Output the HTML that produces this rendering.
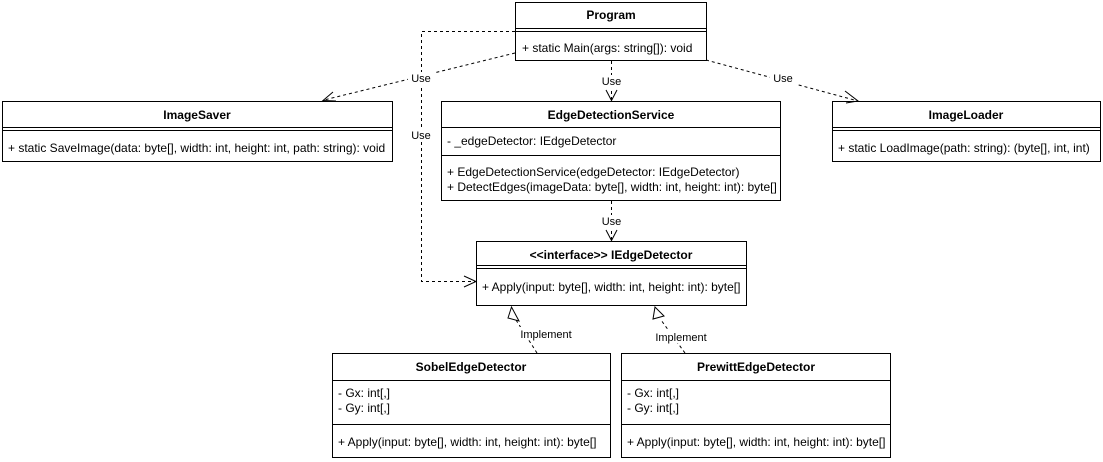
<!DOCTYPE html>
<html><head><meta charset="utf-8"><style>
html,body{margin:0;padding:0;background:#fff;}
svg{display:block;font-family:"Liberation Sans",Arial,sans-serif;font-size:12px;}
.b{font-weight:bold;}
</style></head><body>
<svg width="1103" height="462" viewBox="0 0 1103 462" xmlns="http://www.w3.org/2000/svg">
<g fill="#fff" stroke="#000" stroke-width="1">
<rect x="515.5" y="2.5" width="191" height="58"/>
<line x1="515.5" y1="28.5" x2="706.5" y2="28.5"/><line x1="515.5" y1="31.5" x2="706.5" y2="31.5"/>
<rect x="2.5" y="101.5" width="390" height="60"/>
<line x1="2.5" y1="127.5" x2="392.5" y2="127.5"/><line x1="2.5" y1="130.5" x2="392.5" y2="130.5"/>
<rect x="441.5" y="101.5" width="339" height="99"/>
<line x1="441.5" y1="127.5" x2="780.5" y2="127.5"/>
<line x1="441.5" y1="155.5" x2="780.5" y2="155.5"/>
<rect x="832.5" y="101.5" width="268" height="60"/>
<line x1="832.5" y1="127.5" x2="1100.5" y2="127.5"/><line x1="832.5" y1="130.5" x2="1100.5" y2="130.5"/>
<rect x="476.5" y="241.5" width="270" height="64"/>
<line x1="476.5" y1="265.5" x2="746.5" y2="265.5"/><line x1="476.5" y1="268.5" x2="746.5" y2="268.5"/>
<rect x="332.5" y="353.5" width="278" height="104"/>
<line x1="332.5" y1="380.5" x2="610.5" y2="380.5"/>
<line x1="332.5" y1="424.5" x2="610.5" y2="424.5"/>
<rect x="621.5" y="353.5" width="269" height="104"/>
<line x1="621.5" y1="380.5" x2="890.5" y2="380.5"/>
<line x1="621.5" y1="424.5" x2="890.5" y2="424.5"/>
</g>
<g fill="none" stroke="#000" stroke-width="1" stroke-dasharray="3,3">
<line x1="515" y1="53" x2="324" y2="100"/>
<line x1="706" y1="60" x2="858" y2="101"/>
<line x1="611.5" y1="61" x2="611.5" y2="100"/>
<polyline points="515,31.5 421.5,31.5 421.5,281.5 475,281.5"/>
<line x1="611.5" y1="201" x2="611.5" y2="240"/>
<line x1="537" y1="353" x2="516" y2="320"/>
<line x1="685" y1="353" x2="661" y2="320"/>
</g>
<g fill="none" stroke="#000" stroke-width="1">
<polyline points="333,92 323,100.5 336,101"/>
<polyline points="845,91 858,101 846,103"/>
<polyline points="606,90 611.5,100.5 617,90"/>
<polyline points="606,230 611.5,240.5 617,230"/>
<polyline points="464,276 476,281.5 464,287"/>
</g>
<g fill="#fff" stroke="#000" stroke-width="1">
<polygon points="511.5,307 508,318 519,321"/>
<polygon points="655,307 653,319 664,316"/>
</g>
<g fill="#fff">
<rect x="408" y="72" width="26" height="13"/>
<rect x="770" y="72" width="26" height="13"/>
<rect x="599" y="75" width="26" height="13"/>
<rect x="408" y="129" width="26" height="13"/>
<rect x="599" y="215" width="26" height="13"/>
<rect x="516" y="327" width="60" height="13"/>
<rect x="650" y="330" width="60" height="13"/>
</g>
<g fill="#000" font-size="11px">
<text x="421" y="82" text-anchor="middle">Use</text>
<text x="783" y="82" text-anchor="middle">Use</text>
<text x="611.5" y="85" text-anchor="middle">Use</text>
<text x="421" y="139" text-anchor="middle">Use</text>
<text x="611.5" y="225" text-anchor="middle">Use</text>
<text x="546" y="338" text-anchor="middle">Implement</text>
<text x="681" y="341" text-anchor="middle">Implement</text>
</g>
<g fill="#000">
<text class="b" x="611" y="19" text-anchor="middle">Program</text>
<text x="522" y="52">+ static Main(args: string[]): void</text>
<text class="b" x="197" y="119" text-anchor="middle">ImageSaver</text>
<text x="8" y="152">+ static SaveImage(data: byte[], width: int, height: int, path: string): void</text>
<text class="b" x="611" y="119" text-anchor="middle">EdgeDetectionService</text>
<text x="447" y="145">- _edgeDetector: IEdgeDetector</text>
<text x="447" y="176">+ EdgeDetectionService(edgeDetector: IEdgeDetector)</text>
<text x="447" y="191">+ DetectEdges(imageData: byte[], width: int, height: int): byte[]</text>
<text class="b" x="966" y="119" text-anchor="middle">ImageLoader</text>
<text x="838" y="152">+ static LoadImage(path: string): (byte[], int, int)</text>
<text class="b" x="611" y="259" text-anchor="middle">&lt;&lt;interface&gt;&gt; IEdgeDetector</text>
<text x="482" y="291">+ Apply(input: byte[], width: int, height: int): byte[]</text>
<text class="b" x="471" y="371" text-anchor="middle">SobelEdgeDetector</text>
<text x="338" y="397">- Gx: int[,]</text>
<text x="338" y="412">- Gy: int[,]</text>
<text x="338" y="446">+ Apply(input: byte[], width: int, height: int): byte[]</text>
<text class="b" x="756" y="371" text-anchor="middle">PrewittEdgeDetector</text>
<text x="627" y="397">- Gx: int[,]</text>
<text x="627" y="412">- Gy: int[,]</text>
<text x="627" y="446">+ Apply(input: byte[], width: int, height: int): byte[]</text>
</g>
</svg>
</body></html>
